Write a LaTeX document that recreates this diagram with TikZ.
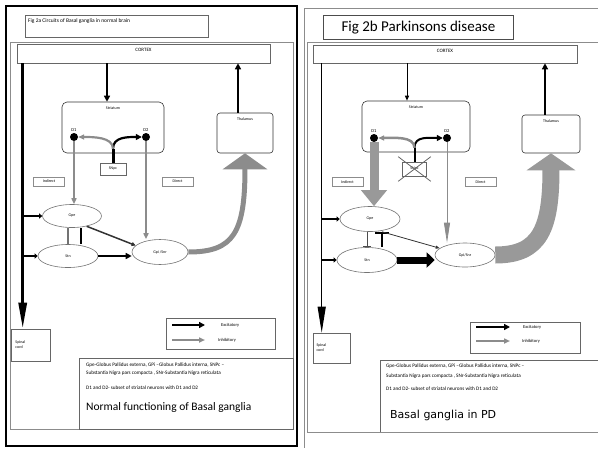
\documentclass[tikz,border=0pt]{standalone}
\usepackage{fontspec}
\setmainfont{Carlito}
\newfontfamily\widefont{DejaVu Sans}
\usetikzlibrary{shapes.geometric, arrows.meta, calc}

\begin{document}
\begin{tikzpicture}[
  x=1pt, y=-1pt,
  font=\fontsize{4.5}{5.5}\selectfont,
  panelline/.style = {draw=black!45, line width=0.8pt},
  box/.style    = {rectangle, draw=black!60, line width=0.6pt, inner sep=1pt},
  rbox/.style   = {rectangle, rounded corners=5pt, draw=black!80, line width=0.6pt},
  tagbox/.style = {rectangle, draw=black!45, line width=0.6pt, inner sep=0pt,
                   minimum width=31pt, minimum height=9pt, font=\fontsize{4}{5}\selectfont},
  ell/.style    = {ellipse, draw=black!55, line width=0.6pt, inner sep=0pt,
                   font=\fontsize{4}{5}\selectfont},
  dot/.style    = {circle, fill=black, inner sep=0pt, minimum size=8pt},
  tag/.style    = {font=\fontsize{4.5}{5}\selectfont, inner sep=1pt},
  head/.style   = {anchor=north, inner sep=5pt, font=\fontsize{4}{5}\selectfont},
  exc/.style    = {-{Triangle[length=6pt,width=6pt]}, black, line width=2.5pt},
  inh/.style    = {-{Triangle[length=6pt,width=5pt]}, black!45, line width=1.6pt},
  spine/.style  = {-{Triangle[length=26pt,width=8pt]}, black},
  stub/.style   = {-{Triangle[length=3pt,width=5pt]}, black, line width=2.5pt},
  notes/.style  = {anchor=west, inner sep=0pt, font=\fontsize{5.2}{6}\selectfont}
]
\useasboundingbox (0,0) rectangle (598,448);

% ---------- Fig 2a : normal ----------
\draw[black, line width=2pt] (6,6) rectangle (297,446);
\draw[panelline] (10,42) rectangle (293,429);

\node[box, anchor=north west, minimum width=183pt, minimum height=22pt,
      label={[anchor=north west, inner sep=3pt, font=\fontsize{5.5}{6}\selectfont]north west:Fig 2a Circuits of Basal ganglia in normal brain}]
      (title1) at (25,15) {};
\node[box, minimum width=253pt, minimum height=19pt,
      label={[head, inner sep=4pt, font=\fontsize{5}{6}\selectfont]north:CORTEX}] (cortex1) at (143.5,53.5) {};

\node[rbox, minimum width=102pt, minimum height=51pt, label={[head]north:Striatum}] (striatum1) at (113,127.5) {};
\node[dot, label={[tag]above:D1}] (d1a) at (74,137) {};
\node[dot, label={[tag]above:D2}] (d2a) at (146,137) {};
\node[box, minimum width=26pt, minimum height=12pt, font=\fontsize{4}{5}\selectfont] (snpc1) at (113,169) {SNpc};
\node[rbox, rounded corners=3pt, minimum width=56pt, minimum height=40pt, label={[head]north:Thalamus}] (thal1) at (245,133) {};
\node[tagbox] (indirect1) at (49,181.5) {Indirect};
\node[tagbox] (direct1)   at (177.5,181.5) {Direct};
\node[ell, minimum width=59pt, minimum height=23pt] (gpe1) at (72,216) {Gpe};
\node[ell, minimum width=60pt, minimum height=23pt] (stn1) at (68,256) {Stn};
\node[ell, minimum width=56pt, minimum height=25pt] (gpi1) at (160,252) {Gpi /Snr};
\node[box, minimum width=39pt, minimum height=32pt, align=left, text width=30pt,
      font=\fontsize{4}{5}\selectfont] (spinal1) at (30.5,345) {Spinal\\cord};

% legend
\node[box, minimum width=109pt, minimum height=31pt] (legend1) at (220.5,333.5) {};
\coordinate (ea1) at (172,325); \coordinate (eb1) at (205,325);
\coordinate (ia1) at (172,340); \coordinate (ib1) at (205,340);
\node[tag, anchor=west] (exc1) at (220,325) {Excitatory};
\node[tag, anchor=west] (inh1) at (217,340) {Inhibitory};
\draw[exc, line width=2pt] (ea1) -- (eb1);
\draw[inh, line width=2pt] (ia1) -- (ib1);

% notes
\node[box, anchor=north west, minimum width=214pt, minimum height=71pt] (notes1) at (79,358) {};
\node[notes] (n1a) at (86,365) {Gpe-Globus Pallidus externa, GPi --Globus Pallidus interna, SNPc --};
\node[notes] (n1b) at (86,373) {Substantia Nigra pars compacta , SNr-Substantia Nigra reticulata};
\node[notes] (n1c) at (86,388) {D1 and D2- subset of striatal neurons with D1 and D2};
\node[notes, font=\fontsize{11.5}{13}\selectfont] (n1d) at (86,407) {Normal functioning of Basal ganglia};

% connectors
\coordinate (sp1) at ([xshift=6pt]cortex1.south west);
\draw[spine, line width=3pt] (sp1) -- (sp1 |- spinal1.north);
\draw[stub] (sp1 |- gpe1.west) -- (gpe1.west);
\draw[stub] (sp1 |- stn1.west) -- (stn1.west);

\coordinate (s1in) at ([xshift=-6pt]striatum1.north);
\draw[exc] (s1in |- cortex1.south) -- (s1in);
\coordinate (t1out) at ([xshift=-7pt]thal1.north);
\draw[exc] (t1out) -- (t1out |- cortex1.south);

\draw[inh] (d1a.south) -- (d1a |- gpe1.north);
\draw[inh] (d2a.south) -- (d2a |- gpi1.north);

\coordinate (fork1) at ([yshift=14pt]snpc1.north);
\draw[black, line width=3pt] (snpc1.north) -- (fork1);
\draw[exc, line width=2.2pt] (fork1) .. controls +(0,-12) and +(-14,0) .. (d2a.west);
\draw[inh, line width=2.2pt] (fork1) .. controls +(0,-12) and +(14,0) .. (d1a.east);

\coordinate (g1l) at ([xshift=-4pt]gpe1.south);
\coordinate (g1r) at ([xshift=9pt]gpe1.south);
\draw[black!55, line width=2.5pt] (g1l) -- (g1l |- stn1.north);
\draw[black, line width=2.5pt] (g1r |- stn1.north) -- (g1r);
\draw[black!80, line width=1.5pt, -{Triangle[length=4pt,width=4pt]}] (gpe1.-35) -- (gpi1.165);
\draw[exc, line width=2pt] (stn1.east) -- (stn1.east -| gpi1.west);
\draw[black!45, line width=5pt, -{Triangle[length=16pt,width=44pt]}]
  (gpi1.east) .. controls +(45,0) and +(0,80) .. (thal1.south);

% ---------- Fig 2b : Parkinsons disease ----------
\draw[panelline] (598,8) -- (304,8) -- (304,448);
\draw[panelline] (598,42) -- (307,42) -- (307,432) -- (598,432);

\node[box, draw=black!70, line width=0.9pt, anchor=north west, minimum width=190pt, minimum height=24pt,
      font=\fontsize{15}{17}\selectfont] (title2) at (323,15) {Fig 2b Parkinsons disease};
\node[box, minimum width=264pt, minimum height=18pt,
      label={[head, inner sep=4pt, font=\fontsize{5}{6}\selectfont]north:CORTEX}] (cortex2) at (445,54) {};

\node[rbox, minimum width=108pt, minimum height=51pt, label={[head]north:Striatum}] (striatum2) at (416,126.5) {};
\node[dot, label={[tag]above:D1}] (d1b) at (374,138) {};
\node[dot, label={[tag]above:D2}] (d2b) at (447,138) {};
\node[box, minimum width=24pt, minimum height=14pt, font=\fontsize{4}{5}\selectfont] (snpc2) at (414.5,169) {SNpc};
\node[rbox, rounded corners=3pt, minimum width=58pt, minimum height=38pt, label={[head]north:Thalamus}] (thal2) at (551,134) {};
\node[tagbox] (indirect2) at (347.5,182) {Indirect};
\node[tagbox] (direct2)   at (480.5,182) {Direct};
\node[ell, minimum width=60pt, minimum height=25pt] (gpe2) at (370,219) {Gpe};
\node[ell, minimum width=60pt, minimum height=25pt] (stn2) at (367,260) {Stn};
\node[ell, minimum width=60pt, minimum height=24pt] (gpi2) at (465,255) {Gpi/Snr};
\node[box, minimum width=37pt, minimum height=30pt, align=left, text width=30pt,
      font=\fontsize{4}{5}\selectfont] (spinal2) at (331.5,348) {Spinal\\cord};

% legend
\node[box, minimum width=110pt, minimum height=31pt] (legend2) at (525,337.5) {};
\coordinate (ea2) at (476,327); \coordinate (eb2) at (510,327);
\coordinate (ia2) at (476,341); \coordinate (ib2) at (510,341);
\node[tag, anchor=west] (exc2) at (522,327) {Excitatory};
\node[tag, anchor=west] (inh2) at (521,341) {Inhibitory};
\draw[exc, line width=2pt] (ea2) -- (eb2);
\draw[inh, line width=2pt] (ia2) -- (ib2);

% notes
\coordinate (notes2) at (380,360);
\draw[draw=black!60, line width=0.6pt] (598,360) -| (380,432);
\node[notes] (n2a) at (386,366) {Gpe-Globus Pallidus externa, GPi --Globus Pallidus interna, SNPc --};
\node[notes] (n2b) at (386,376) {Substantia Nigra pars compacta , SNr-Substantia Nigra reticulata};
\node[notes] (n2c) at (386,389) {D1 and D2- subset of striatal neurons with D1 and D2};
\node[notes, font=\widefont\fontsize{11}{13}\selectfont] (n2d) at (390,415) {Basal ganglia in PD};

% connectors
\coordinate (sp2) at ([xshift=9pt]cortex2.south west);
\draw[spine, line width=1.2pt] (sp2) -- (sp2 |- spinal2.north);
\draw[stub] (sp2 |- gpe2.west) -- (gpe2.west);
\draw[stub] (sp2 |- stn2.west) -- (stn2.west);

\coordinate (s2in) at ([xshift=-9pt]striatum2.north);
\draw[exc, line width=1pt, -{Triangle[length=5pt,width=4pt]}] (s2in |- cortex2.south) -- (s2in);
\coordinate (t2out) at ([xshift=-6pt]thal2.north);
\draw[exc, line width=1.3pt] (t2out) -- (t2out |- cortex2.south);

\draw[black!40, line width=9pt, -{Triangle[length=16pt,width=25pt]}] (d1b.south) -- (d1b |- gpe2.north);
\draw[black!45, line width=0.8pt, -{Triangle[length=20pt,width=6pt]}] (d2b.south) -- (d2b |- gpi2.north);

\coordinate (fork2) at ([yshift=14pt]snpc2.north);
\draw[black, line width=2pt] (snpc2.north) -- (fork2);
\draw[exc, line width=2pt] (fork2) .. controls +(0,-12) and +(-14,0) .. (d2b.west);
\draw[inh, line width=2.5pt] (fork2) .. controls +(0,-12) and +(14,0) .. (d1b.east);
\draw[black!60, line width=0.8pt] ([shift={(-4,-5)}]snpc2.north west) -- ([shift={(4,5)}]snpc2.south east);
\draw[black!60, line width=0.8pt] ([shift={(4,-5)}]snpc2.north east) -- ([shift={(-4,5)}]snpc2.south west);

\coordinate (g2l) at ([xshift=-3pt]gpe2.south);
\coordinate (g2r) at ([xshift=12pt]gpe2.south);
\draw[black!70, line width=0.8pt, -{Bar[width=8pt]}] (g2l) -- (g2l |- stn2.north);
\draw[black, line width=2.5pt, -{Bar[width=14pt]}] (g2r |- stn2.north) -- (g2r);
\draw[black!80, line width=0.8pt, -{Triangle[length=4pt,width=3pt]}] (g2r) -- (gpi2.165);
\draw[black, line width=7pt, -{Triangle[length=8pt,width=15pt]}] (stn2.east) -- (stn2.east -| gpi2.west);
\draw[black!40, line width=17pt, -{Triangle[length=17pt,width=48pt]}]
  (gpi2.east) .. controls +(45,0) and +(0,75) .. (thal2.south);
\end{tikzpicture}
\end{document}
